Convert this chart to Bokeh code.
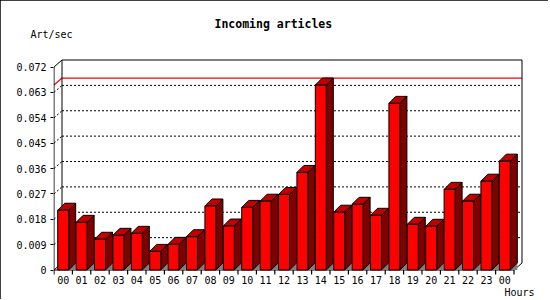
from bokeh.plotting import figure
from bokeh.models import Range1d, FixedTicker, CustomJSTickFormatter, Title
from bokeh.embed import file_html
from bokeh.resources import INLINE

# ---------------- data ----------------
HOURS = ["00", "01", "02", "03", "04", "05", "06", "07", "08", "09", "10", "11",
         "12", "13", "14", "15", "16", "17", "18", "19", "20", "21", "22", "23", "00"]
RATES = [0.0212, 0.0169, 0.0109, 0.0123, 0.0130, 0.0066, 0.0091, 0.0118,
         0.0227, 0.0156, 0.0222, 0.0244, 0.0268, 0.0346, 0.0656, 0.0205,
         0.0233, 0.0194, 0.0591, 0.0162, 0.0155, 0.0286, 0.0244, 0.0315, 0.0386]
Y_TICKS = [0, 0.009, 0.018, 0.027, 0.036, 0.045, 0.054, 0.063, 0.072]
TITLE = "Incoming articles"
Y_TITLE = "Art/sec"
X_TITLE = "Hours"

# ---------------- layout (pixels) ----------------
W, H = 548, 299
FRAME_L, FRAME_R, FRAME_T, FRAME_B = 53, 524, 57, 276
ZERO_PX = 269.5                   # pixel row of value 0
PX_X = 18.4                       # pixels per category
PX_Y = 203 / Y_TICKS[-1]          # pixels per unit of value
MONO = "DejaVu Sans Mono"

x0 = -0.5 - 0.5 / PX_X
y0 = -(FRAME_B - ZERO_PX) / PX_Y
x_range = Range1d(x0, x0 + (FRAME_R - FRAME_L) / PX_X)
y_range = Range1d(y0, y0 + (FRAME_B - FRAME_T) / PX_Y)

HW = 5.5 / PX_X                 # half width of bar front
DXB, DYB = 7 / PX_X, 7 / PX_Y   # bar depth
DXW, DYW = 8 / PX_X, 7 / PX_Y   # wall depth
TICK = 4.5 / PX_Y               # x tick length

p = figure(width=W, height=H, x_range=x_range, y_range=y_range,
           output_backend="svg", toolbar_location=None,
           min_border_left=FRAME_L, min_border_right=W - FRAME_R,
           min_border_top=FRAME_T, min_border_bottom=H - FRAME_B,
           styles={"outline": "1px solid black", "outline-offset": "-1px"})
p.grid.visible = False
p.outline_line_color = None
p.background_fill_color = "white"
p.border_fill_color = "white"

n = len(RATES)
xs = list(range(n))
left_edge = -0.5
right_edge = n - 0.5
ytop = Y_TICKS[-1]
bounds = [i - 0.5 for i in range(n + 1)]

# ---- back wall grid lines (dotted) + connectors ----
for t in Y_TICKS[1:-1]:
    p.line([left_edge + DXW, right_edge + DXW], [t + DYW, t + DYW],
           line_color="black", line_width=1, line_dash="2 2")
    p.line([left_edge, left_edge + DXW], [t, t + DYW],
           line_color="black", line_width=1, line_dash="2 2")

# ---- max value line (red) ----
vmax = max(RATES)
p.line([left_edge, left_edge + DXW, right_edge + DXW],
       [vmax, vmax + DYW, vmax + DYW], line_color="#ff0000", line_width=1.2)

# ---- back wall outline ----
p.line([left_edge + DXW, left_edge + DXW, right_edge + DXW, right_edge + DXW],
       [DYW, ytop + DYW, ytop + DYW, DYW], line_color="black", line_width=1)
# front axes + depth connectors
p.line([left_edge + DXW, left_edge, left_edge, right_edge, right_edge + DXW],
       [ytop + DYW, ytop, 0, 0, DYW], line_color="black", line_width=1)
p.line([left_edge, left_edge + DXW], [0, DYW], line_color="black", line_width=1)
# x tick marks at category boundaries
p.segment(x0=bounds, y0=[0] * len(bounds), x1=bounds, y1=[-TICK] * len(bounds),
          line_color="black", line_width=1.2)

# ---- bars ----
shadow_xs = [[i + HW, i + HW + DXB, i + HW + DXB] for i in xs]
shadow_ys = [[0, DYB, 0] for i in xs]
p.patches(shadow_xs, shadow_ys, fill_color="#808080", line_color=None)

side_xs = [[i + HW, i + HW + DXB, i + HW + DXB, i + HW] for i in xs]
side_ys = [[0, DYB, v + DYB, v] for v in RATES]
p.patches(side_xs, side_ys, fill_color="#800000", line_color="black", line_width=1)

top_xs = [[i - HW, i + HW, i + HW + DXB, i - HW + DXB] for i in xs]
top_ys = [[v, v, v + DYB, v + DYB] for v in RATES]
p.patches(top_xs, top_ys, fill_color="#c00000", line_color="black", line_width=1)

p.quad(left=[i - HW for i in xs], right=[i + HW for i in xs],
       bottom=0, top=RATES, fill_color="#ff0000", line_color="black", line_width=1)

# ---- axes ----
yax = p.yaxis[0]
yax.ticker = FixedTicker(ticks=Y_TICKS)
yax.formatter = CustomJSTickFormatter(code="return tick == 0 ? '0' : tick.toFixed(3);")
yax.axis_line_color = None
yax.major_tick_out = 3
yax.major_tick_in = 0
yax.minor_tick_line_color = None
yax.major_tick_line_color = "black"
yax.major_label_text_font = MONO
yax.major_label_text_font_size = "10px"
yax.major_label_text_color = "black"
yax.major_label_standoff = 4

xax = p.xaxis[0]
xax.ticker = FixedTicker(ticks=xs)
xax.formatter = CustomJSTickFormatter(args=dict(labels=HOURS),
                                      code="return labels[Math.round(tick)];")
xax.axis_line_color = None
xax.major_tick_line_color = None
xax.minor_tick_line_color = None
xax.major_tick_out = 0
xax.major_tick_in = 0
xax.major_label_text_font = MONO
xax.major_label_text_font_size = "10px"
xax.major_label_text_color = "black"
xax.major_label_standoff = -1

# ---- texts outside the frame ----
# white (invisible) spacer panel between the frame and the unit label
p.add_layout(Title(text=".", align="left", offset=0, standoff=10,
                   text_font=MONO, text_font_size="10px", text_color="white"), "above")
p.add_layout(Title(text=Y_TITLE, align="left", offset=30 - FRAME_L, standoff=-4,
                   text_font=MONO, text_font_size="10px", text_font_style="normal",
                   text_color="black"), "above")
p.add_layout(Title(text=TITLE, align="left", offset=161, standoff=-4,
                   text_font=MONO, text_font_size="11.5px", text_font_style="bold",
                   text_color="black"), "above")
p.add_layout(Title(text=X_TITLE, align="right", offset=-10, standoff=-4,
                   text_font=MONO, text_font_size="10px", text_font_style="normal",
                   text_color="black"), "below")

open("out.html", "w").write(file_html(p, INLINE))
